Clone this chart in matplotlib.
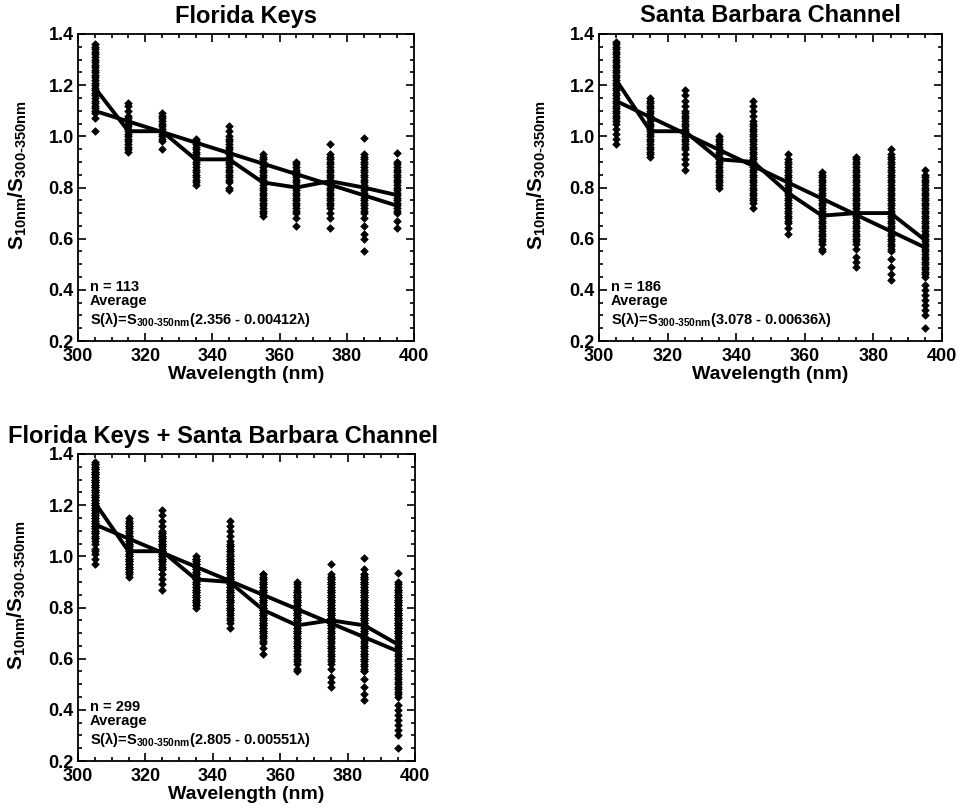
import matplotlib
matplotlib.use("Agg")
import matplotlib.pyplot as plt
from matplotlib.ticker import MultipleLocator

plt.rcParams['font.family'] = ['Liberation Sans', 'DejaVu Sans']
plt.rcParams['font.weight'] = 'bold'
plt.rcParams['mathtext.fontset'] = 'custom'
plt.rcParams['mathtext.rm'] = 'Liberation Sans:bold'
plt.rcParams['mathtext.it'] = 'Liberation Sans:bold'
plt.rcParams['mathtext.bf'] = 'Liberation Sans:bold'

# ---------------- data ----------------
wavelengths = [305, 315, 325, 335, 345, 355, 365, 375, 385, 395]

# Florida Keys: individual normalized spectra values per wavelength
fk_points = {
    305: [1.36, 1.35, 1.34, 1.33, 1.32, 1.31, 1.30, 1.29, 1.28, 1.27, 1.26, 1.25, 1.24, 1.23, 1.22,
          1.21, 1.20, 1.19, 1.18, 1.17, 1.16, 1.15, 1.14, 1.13, 1.12, 1.11, 1.10, 1.09, 1.07, 1.02],
    315: [1.13, 1.12, 1.10, 1.08, 1.07, 1.06, 1.05, 1.04, 1.03, 1.02, 1.01, 1.00, 0.99, 0.98,
          0.97, 0.96, 0.95, 0.94],
    325: [1.09, 1.08, 1.07, 1.06, 1.05, 1.04, 1.03, 1.02, 1.01, 1.00, 0.99, 0.98, 0.95],
    335: [0.99, 0.98, 0.97, 0.96, 0.95, 0.94, 0.93, 0.92, 0.91, 0.90, 0.89, 0.88, 0.87, 0.86,
          0.85, 0.84, 0.83, 0.82, 0.81],
    345: [1.04, 1.02, 1.00, 0.99, 0.98, 0.97, 0.96, 0.95, 0.94, 0.93, 0.92, 0.91, 0.90, 0.89,
          0.88, 0.87, 0.86, 0.85, 0.84, 0.83, 0.82, 0.80, 0.79],
    355: [0.93, 0.92, 0.91, 0.90, 0.89, 0.88, 0.87, 0.86, 0.85, 0.84, 0.83, 0.82, 0.81, 0.80,
          0.79, 0.78, 0.77, 0.76, 0.75, 0.74, 0.73, 0.72, 0.71, 0.70, 0.69],
    365: [0.90, 0.89, 0.88, 0.87, 0.86, 0.85, 0.84, 0.83, 0.82, 0.81, 0.80, 0.79, 0.78, 0.77,
          0.76, 0.75, 0.74, 0.73, 0.72, 0.71, 0.70, 0.68, 0.65],
    375: [0.97, 0.93, 0.92, 0.91, 0.90, 0.89, 0.88, 0.87, 0.86, 0.85, 0.84, 0.83, 0.82, 0.81,
          0.80, 0.79, 0.78, 0.77, 0.76, 0.75, 0.74, 0.73, 0.72, 0.70, 0.68, 0.64],
    385: [0.995, 0.93, 0.92, 0.91, 0.90, 0.89, 0.88, 0.87, 0.86, 0.85, 0.84, 0.83, 0.82, 0.81,
          0.80, 0.79, 0.78, 0.77, 0.76, 0.75, 0.74, 0.73, 0.72, 0.71, 0.70, 0.68, 0.65, 0.62,
          0.60, 0.55],
    395: [0.935, 0.90, 0.89, 0.88, 0.87, 0.86, 0.85, 0.84, 0.83, 0.82, 0.81, 0.80, 0.79, 0.78,
          0.77, 0.76, 0.75, 0.74, 0.73, 0.72, 0.71, 0.70, 0.67, 0.64],
}

# Santa Barbara Channel
sb_points = {
    305: [1.37, 1.36, 1.35, 1.34, 1.33, 1.32, 1.31, 1.30, 1.29, 1.28, 1.27, 1.26, 1.25, 1.24,
          1.23, 1.22, 1.21, 1.20, 1.19, 1.18, 1.17, 1.16, 1.15, 1.14, 1.13, 1.12, 1.11, 1.10,
          1.09, 1.08, 1.07, 1.06, 1.05, 1.03, 1.01, 0.99, 0.97],
    315: [1.15, 1.14, 1.13, 1.12, 1.11, 1.10, 1.09, 1.08, 1.07, 1.06, 1.05, 1.04, 1.03, 1.02,
          1.01, 1.00, 0.99, 0.98, 0.97, 0.96, 0.95, 0.94, 0.93, 0.92],
    325: [1.18, 1.16, 1.14, 1.12, 1.10, 1.09, 1.08, 1.07, 1.06, 1.05, 1.04, 1.03, 1.02, 1.01,
          1.00, 0.99, 0.98, 0.97, 0.96, 0.95, 0.93, 0.91, 0.89, 0.87],
    335: [1.00, 0.99, 0.98, 0.97, 0.96, 0.95, 0.94, 0.93, 0.92, 0.91, 0.90, 0.89, 0.88, 0.87,
          0.86, 0.85, 0.84, 0.83, 0.82, 0.81, 0.80],
    345: [1.14, 1.12, 1.10, 1.08, 1.06, 1.05, 1.04, 1.03, 1.02, 1.01, 1.00, 0.99, 0.98, 0.97,
          0.96, 0.95, 0.94, 0.93, 0.92, 0.91, 0.90, 0.89, 0.88, 0.87, 0.86, 0.85, 0.84, 0.83,
          0.82, 0.81, 0.80, 0.79, 0.78, 0.77, 0.76, 0.75, 0.74, 0.72],
    355: [0.93, 0.91, 0.90, 0.89, 0.88, 0.87, 0.86, 0.85, 0.84, 0.83, 0.82, 0.81, 0.80, 0.79,
          0.78, 0.77, 0.76, 0.75, 0.74, 0.73, 0.72, 0.71, 0.70, 0.69, 0.68, 0.67, 0.66, 0.64,
          0.62],
    365: [0.86, 0.85, 0.84, 0.83, 0.82, 0.81, 0.80, 0.79, 0.78, 0.77, 0.76, 0.75, 0.74, 0.73,
          0.72, 0.71, 0.70, 0.69, 0.68, 0.67, 0.66, 0.65, 0.64, 0.63, 0.62, 0.61, 0.60, 0.59,
          0.58, 0.56, 0.55],
    375: [0.92, 0.91, 0.90, 0.89, 0.88, 0.87, 0.86, 0.85, 0.84, 0.83, 0.82, 0.81, 0.80, 0.79,
          0.78, 0.77, 0.76, 0.75, 0.74, 0.73, 0.72, 0.71, 0.70, 0.69, 0.68, 0.67, 0.66, 0.65,
          0.64, 0.63, 0.62, 0.61, 0.60, 0.59, 0.58, 0.56, 0.53, 0.51, 0.49],
    385: [0.95, 0.93, 0.92, 0.91, 0.90, 0.89, 0.88, 0.87, 0.86, 0.85, 0.84, 0.83, 0.82, 0.81,
          0.80, 0.79, 0.78, 0.77, 0.76, 0.75, 0.74, 0.73, 0.72, 0.71, 0.70, 0.69, 0.68, 0.67,
          0.66, 0.65, 0.64, 0.63, 0.62, 0.61, 0.60, 0.59, 0.58, 0.57, 0.56, 0.55, 0.52, 0.49,
          0.46, 0.44],
    395: [0.87, 0.85, 0.84, 0.83, 0.82, 0.81, 0.80, 0.79, 0.78, 0.77, 0.76, 0.75, 0.74, 0.73,
          0.72, 0.71, 0.70, 0.69, 0.68, 0.67, 0.66, 0.65, 0.64, 0.63, 0.62, 0.61, 0.60, 0.59,
          0.58, 0.57, 0.56, 0.55, 0.54, 0.53, 0.52, 0.51, 0.50, 0.49, 0.48, 0.47, 0.46, 0.45,
          0.42, 0.40, 0.38, 0.36, 0.34, 0.32, 0.30, 0.25],
}

# Average curves
fk_avg = [1.19, 1.02, 1.02, 0.91, 0.91, 0.82, 0.80, 0.825, 0.80, 0.77]
sb_avg = [1.22, 1.02, 1.02, 0.91, 0.90, 0.78, 0.69, 0.70, 0.70, 0.595]
all_avg = [1.21, 1.02, 1.02, 0.91, 0.90, 0.79, 0.73, 0.75, 0.73, 0.655]

# Linear fits (intercept, slope) from the annotations
fk_fit = (2.356, -0.00412)
sb_fit = (3.078, -0.00636)
all_fit = (2.805, -0.00551)
fit_range = [305, 395]

titles = ["Florida Keys", "Santa Barbara Channel", "Florida Keys + Santa Barbara Channel"]
n_labels = ["n = 113", "n = 186", "n = 299"]
fit_texts = [r"S($\lambda$)=S$_{300\text{-}350nm}$(2.356 - 0.00412$\lambda$)",
             r"S($\lambda$)=S$_{300\text{-}350nm}$(3.078 - 0.00636$\lambda$)",
             r"S($\lambda$)=S$_{300\text{-}350nm}$(2.805 - 0.00551$\lambda$)"]

all_points = {w: fk_points[w] + sb_points[w] for w in wavelengths}

# ---------------- figure ----------------
W, H = 959, 810
fig = plt.figure(figsize=(W / 100, H / 100), dpi=100)

def ax_rect(l, t, r, b):
    return [l / W, 1 - b / H, (r - l) / W, (b - t) / H]

rects = [ax_rect(78, 34, 414, 341), ax_rect(599, 34, 942, 341), ax_rect(78, 454, 415, 761)]
datasets = [(fk_points, fk_avg, fk_fit), (sb_points, sb_avg, sb_fit), (all_points, all_avg, all_fit)]
title_pos = [((78 + 414) / 2 / W, 1 - 16 / H, 'center'),
             ((599 + 942) / 2 / W, 1 - 16 / H, 'center'),
             (8 / W, 1 - 437 / H, 'left')]

for i, (rect, (pts, avg, fit)) in enumerate(zip(rects, datasets)):
    ax = fig.add_axes(rect)
    xs, ys = [], []
    for w in wavelengths:
        xs += [w] * len(pts[w])
        ys += pts[w]
    ax.scatter(xs, ys, marker='D', s=15, color='black', linewidths=0.5, zorder=2)
    ax.plot(wavelengths, avg, color='black', lw=2.8, zorder=3, solid_joinstyle='miter')
    ax.plot(fit_range, [fit[0] + fit[1] * x for x in fit_range], color='black', lw=2.8, zorder=3)
    ax.set_xlim(300, 400)
    ax.set_ylim(0.2, 1.4)
    ax.xaxis.set_major_locator(MultipleLocator(20))
    ax.xaxis.set_minor_locator(MultipleLocator(5))
    ax.yaxis.set_major_locator(MultipleLocator(0.2))
    ax.yaxis.set_minor_locator(MultipleLocator(0.05))
    ax.yaxis.set_major_formatter(plt.FuncFormatter(lambda v, p: f"{v:.1f}"))
    ax.tick_params(which='both', direction='in', top=True, right=True, width=1.2)
    ax.tick_params(which='major', length=6, labelsize=13)
    ax.tick_params(axis='x', which='major', pad=5)
    ax.tick_params(axis='y', which='major', pad=3)
    ax.tick_params(which='minor', length=3)
    for lab in ax.get_xticklabels() + ax.get_yticklabels():
        lab.set_fontweight('bold')
    for sp in ax.spines.values():
        sp.set_linewidth(1.3)
    ax.set_xlabel("Wavelength (nm)", fontsize=14, fontweight='bold')
    ax.xaxis.set_label_coords(0.5, -0.080)
    ax.set_ylabel(r"S$_{10nm}$/S$_{300\text{-}350nm}$", fontsize=15, fontweight='bold')
    ax.yaxis.set_label_coords(-0.18, 0.54)
    ax.yaxis.label.set_va('center')
    ax.text(0.035, 0.163, n_labels[i], transform=ax.transAxes, fontsize=10.5, fontweight='bold', va='baseline')
    ax.text(0.035, 0.116, "Average", transform=ax.transAxes, fontsize=10.5, fontweight='bold', va='baseline')
    ax.text(0.035, 0.057, fit_texts[i], transform=ax.transAxes, fontsize=10.5, fontweight='bold', va='baseline')
    tx, ty, ha = title_pos[i]
    fig.text(tx, ty, titles[i], fontsize=17, fontweight='bold', ha=ha, va='center')

fig.savefig("out.png", dpi=100)
